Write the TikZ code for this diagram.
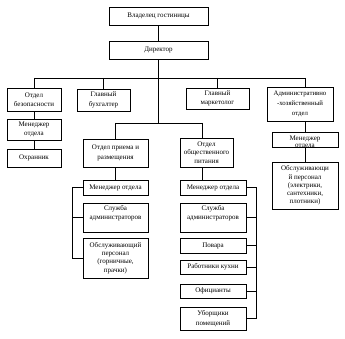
\documentclass[tikz,border=0pt]{standalone}
\usepackage{fontspec}
\setmainfont{Liberation Serif}
\begin{document}
\begin{tikzpicture}[x=1pt,y=-1pt,
  box/.style={draw=black,line width=0.6pt,fill=white,align=center,inner sep=0pt,
    font=\fontsize{7}{9.5}\selectfont},
  conn/.style={draw=black,line width=0.6pt}]
\useasboundingbox (0,0) rectangle (345,339);
% top
\node[box,minimum width=99,minimum height=18] (own) at (158.5,16) {Владелец гостиницы};
\node[box,minimum width=99,minimum height=18] (dir) at (158.5,50) {Директор};
% row 2
\node[box,minimum width=54,minimum height=23] (sec) at (34,99.5) {Отдел\\безопасности};
\node[box,minimum width=53,minimum height=22] (buh) at (103.5,100) {Главный\\бухгалтер};
\node[box,minimum width=63,minimum height=21] (mark) at (217.5,98.5) {Главный\\маркетолог};
\node[box,minimum width=66,minimum height=34,font=\fontsize{6.8}{10}\selectfont] (adm) at (300,104) {Административно\\-хозяйственный\\отдел};
% security column
\node[box,minimum width=54,minimum height=21] (secm) at (34,129.5) {Менеджер\\отдела};
\node[box,minimum width=54,minimum height=18] (ohr) at (34,158) {Охранник};
% departments
\node[box,minimum width=65,minimum height=28] (pri) at (115.5,153) {Отдел приема и\\размещения};
\node[box,minimum width=53,minimum height=29,font=\fontsize{7}{8.5}\selectfont] (pit) at (206.5,152.5) {Отдел\\общественного\\питания};
% left column
\node[box,minimum width=65,minimum height=15] (pm) at (115.5,187.5) {Менеджер отдела};
\node[box,minimum width=65,minimum height=29] (psa) at (115.5,217.5) {Служба\\администраторов\\[-2pt]\strut};
\node[box,minimum width=65,minimum height=40,font=\fontsize{7}{8.4}\selectfont] (pob) at (115.5,258) {Обслуживающий\\персонал\\(горничные,\\прачки)};
% right column
\node[box,minimum width=66,minimum height=15] (tm) at (213,187.5) {Менеджер отдела};
\node[box,minimum width=66,minimum height=29] (tsa) at (213,217.5) {Служба\\администраторов\\[-2pt]\strut};
\node[box,minimum width=66,minimum height=15] (tpov) at (213,245.5) {Повара};
\node[box,minimum width=66,minimum height=14] (trab) at (213,267) {Работники кухни};
\node[box,minimum width=66,minimum height=14] (toff) at (213,291) {Официанты};
\node[box,minimum width=66,minimum height=23] (tub) at (213,318.5) {Уборщики\\помещений};
% admin column
\node[box,minimum width=66,minimum height=15] (am) at (305,139.5) {};
\begin{scope}
  \clip (am.south west) rectangle (am.north east);
  \node[align=center,inner sep=0pt,font=\fontsize{7}{7.5}\selectfont,anchor=north] (amt) at ([yshift=-4pt]am.north) {Менеджер\\отдела};
\end{scope}
\node[box,minimum width=66,minimum height=47,font=\fontsize{7}{8.2}\selectfont] (aob) at (305,185.5) {Обслуживающи\\й персонал\\(электрики,\\сантехники,\\плотники)};
% bus coordinates
\coordinate (busL) at (34,78);
\coordinate (busR) at (305,78);
\coordinate (bus2L) at (115.5,123);
\coordinate (bus2R) at (202,123);
\coordinate (brL) at (72,187.5);
\coordinate (brR) at (256,187.5);
% connectors
\draw[conn] (own) -- (dir);
\draw[conn] (busL) -- (busR);
\draw[conn] (busL) -- (sec.north);
\draw[conn] (buh.north |- busL) -- (buh.north);
\draw[conn] (mark.north |- busL) -- (mark.north);
\draw[conn] (busR) -- (busR |- adm.north);
\draw[conn] (dir.south) -- (dir.south |- bus2L);
\draw[conn] (bus2L) -- (bus2R);
\draw[conn] (bus2L) -- (pri.north);
\draw[conn] (bus2R) -- (bus2R |- pit.north);
\draw[conn] (sec) -- (secm);
\draw[conn] (secm) -- (ohr);
\draw[conn] (pri) -- (pm);
\draw[conn] (bus2R |- pit.south) -- (bus2R |- tm.north);
\draw[conn] (busR |- adm.south) -- (am.north);
\draw[conn] (am) -- (aob);
% left bracket
\draw[conn] (pm.west) -- (brL) |- (pob.west);
\draw[conn] (brL |- psa.west) -- (psa.west);
% right bracket
\draw[conn] (tm.east) -- (brR) |- (tub.east);
\draw[conn] (brR |- tsa.east) -- (tsa.east);
\draw[conn] (brR |- tpov.east) -- (tpov.east);
\draw[conn] (brR |- trab.east) -- (trab.east);
\draw[conn] (brR |- toff.east) -- (toff.east);
\end{tikzpicture}
\end{document}
